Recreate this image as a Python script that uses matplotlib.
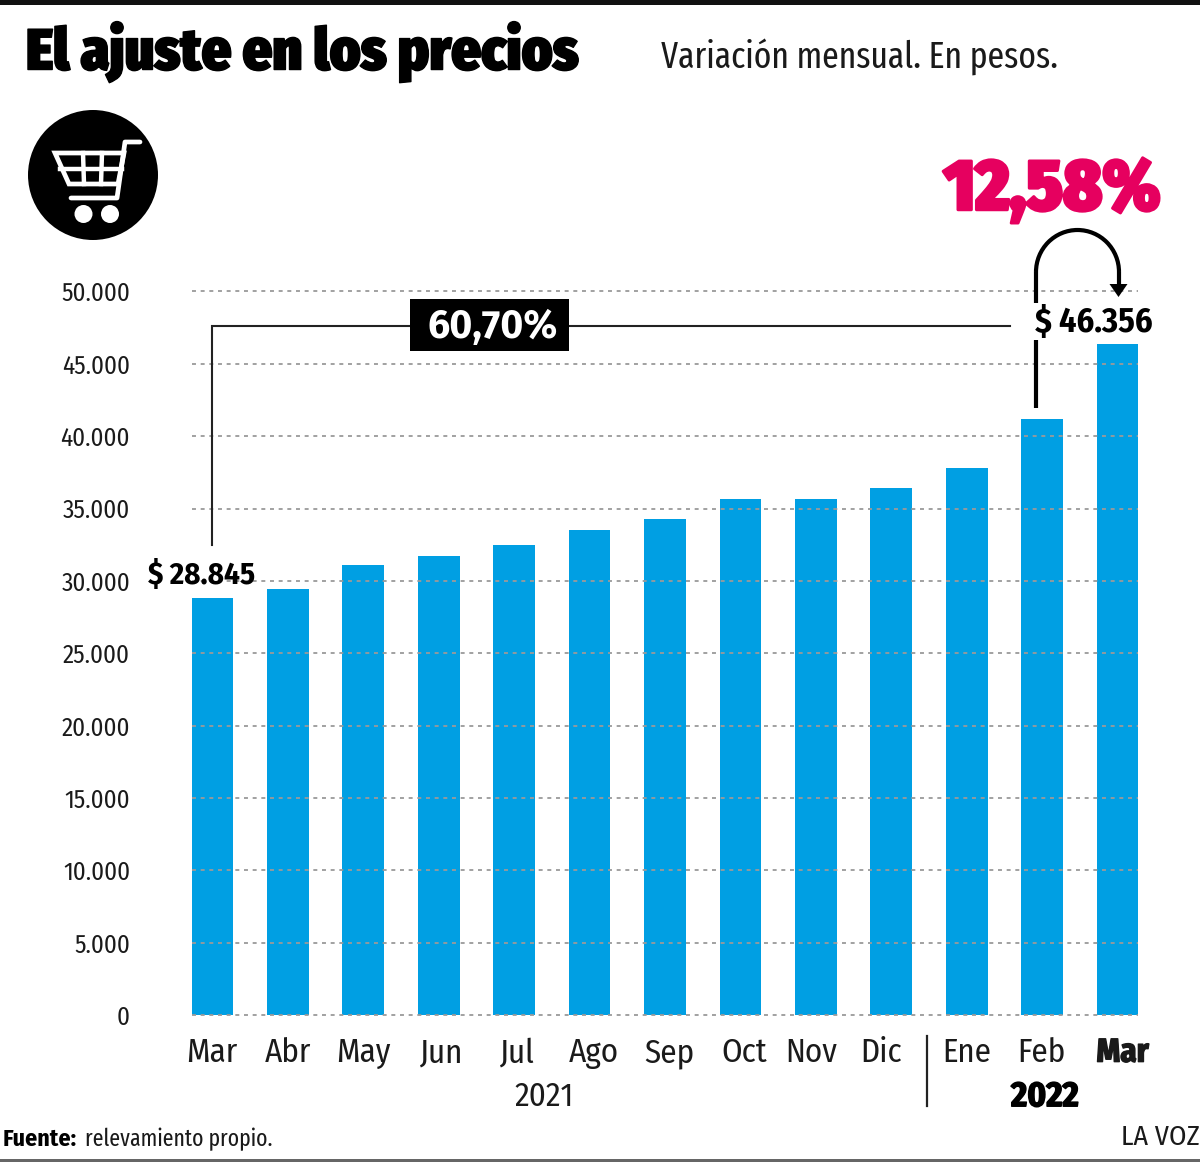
import matplotlib
matplotlib.use("Agg")
import matplotlib.pyplot as plt
import matplotlib.patheffects as pe
from matplotlib.patches import Circle, Polygon, Rectangle, Arc
from matplotlib.transforms import ScaledTranslation
from matplotlib import font_manager as fm

W, H = 1200, 1167
DPI = 100

months = ["Mar", "Abr", "May", "Jun", "Jul", "Ago", "Sep", "Oct", "Nov", "Dic", "Ene", "Feb", "Mar"]
prices = [28845, 29450, 31100, 31700, 32480, 33500, 34280, 35650, 35650, 36400, 37770, 41200, 46356]
label_shift = [-1, 0, 0, 3, 3, 4, 4, 4, -5, -10, 0, -1, 5]
y_ticks = [0, 5000, 10000, 15000, 20000, 25000, 30000, 35000, 40000, 45000, 50000]

installed = {f.name for f in fm.fontManager.ttflist}

def pick(*names):
    return next((n for n in names if n in installed), "Roboto")

NARROW = pick("Fira Sans Condensed", "Roboto")
TIGHT = pick("Fira Sans Extra Condensed", "Fira Sans Condensed", "Roboto")
HEAVY = pick("Fira Sans", "Open Sans")
BLUE = "#009fe3"
PINK = "#e6005f"
INK = "#1a1a1a"

def px(size):
    return size * 72 / DPI

fig = plt.figure(figsize=(W / DPI, H / DPI), dpi=DPI, facecolor="white")

# Bar chart area: the value scale runs a little past the top grid line so it is not clipped
ymax = 50300
top_px = 1016 - (1016 - 291.5) * ymax / 50000
ax = fig.add_axes([192 / W, 1 - 1016 / H, (1138 - 192) / W, (1016 - top_px) / H])
positions = list(range(len(months)))
ax.bar(positions, prices, width=0.555, color=BLUE, zorder=2)
ax.set_xlim(-0.27, 12.27)
ax.set_ylim(-60, ymax)
ax.yaxis.grid(True, color="#9a9a9a", linewidth=1.3, linestyle=(0, (2.2, 2.6)), zorder=3)
ax.set_axisbelow(False)
for side in ax.spines.values():
    side.set_visible(False)

ax.set_yticks(y_ticks)
ax.set_yticklabels([f"{v:,}".replace(",", ".") for v in y_ticks],
                   fontfamily=NARROW, fontsize=px(25), color=INK)
ax.tick_params(axis="y", length=0, pad=px(62))
ax.set_xticks(positions)
ax.set_xticklabels(months, fontfamily=NARROW, fontsize=px(33), color=INK)
ax.tick_params(axis="x", length=0, pad=px(21))
for lab, shift in zip(ax.get_xticklabels(), label_shift):
    lab.set_transform(lab.get_transform() + ScaledTranslation(shift / DPI, 0, fig.dpi_scale_trans))
last = ax.get_xticklabels()[-1]
last.set_fontweight("bold")
last.set_path_effects([pe.withStroke(linewidth=1.0, foreground=INK)])

# Overlay in pixel coordinates for headings, notes and the icon
ov = fig.add_axes([0, 0, 1, 1], facecolor="none")
ov.set_xlim(0, W)
ov.set_ylim(H, 0)
ov.axis("off")

ov.add_patch(Rectangle((0, 0), W, 4.5, color="#111111", lw=0))
ov.add_patch(Rectangle((0, 1159), W, 3, color="#666666", lw=0))

ov.text(26, 52, "El ajuste en los precios", fontfamily=pick("Fira Sans Condensed", "Open Sans"),
        fontweight=900, fontsize=px(58),
        color="black", va="center", ha="left",
        path_effects=[pe.withStroke(linewidth=1.0, foreground="black")])
ov.text(661, 57, "Variación mensual. En pesos.", fontfamily=TIGHT, fontsize=px(36.4),
        color=INK, va="center", ha="left")

# Shopping cart badge
ov.add_patch(Circle((93, 175), 65, color="black", lw=0))
basket = [(55, 153), (124, 153), (118, 184), (69, 184)]
ov.add_patch(Polygon(basket, closed=True, fc="none", ec="white", lw=3.4, joinstyle="miter"))
ov.plot([60, 122], [169, 169], color="white", lw=3.2)
ov.plot([83, 84], [153, 184], color="white", lw=3.2)
ov.plot([102, 101], [153, 184], color="white", lw=3.2)
ov.plot([71, 117, 125, 140], [198, 198, 142, 142], color="white", lw=3.4,
        solid_capstyle="round", solid_joinstyle="round")
ov.add_patch(Circle((83.5, 214), 9, color="white", lw=0))
ov.add_patch(Circle((110, 214), 9, color="white", lw=0))

# Long-range change bracket
ov.plot([212, 212, 1010], [545, 326, 326], color="#222222", lw=1.5, solid_joinstyle="miter")
ov.add_patch(Rectangle((410, 299), 159, 52, color="black", lw=0, zorder=4))
ov.text(492.5, 327, "60,70%", fontfamily=HEAVY, fontweight="bold", fontsize=px(39.5), color="white",
        ha="center", va="center", zorder=5)

# Month-on-month change arrow
ov.plot([1036, 1036], [408, 340], color="black", lw=3, solid_capstyle="butt")
ov.plot([1036, 1036], [303, 272], color="black", lw=3, solid_capstyle="butt")
ov.add_patch(Arc((1077.5, 272), 83, 84, theta1=180, theta2=360, color="black", lw=3))
ov.plot([1119, 1119], [272, 288], color="black", lw=3, solid_capstyle="butt")
ov.add_patch(Polygon([(1109.5, 284), (1127.5, 284), (1118.5, 297)], closed=True, color="black", lw=0))

ov.text(1052, 190, "12,58%", fontfamily=NARROW, fontweight=900, fontsize=px(72), color=PINK,
        ha="center", va="center", path_effects=[pe.withStroke(linewidth=2, foreground=PINK)])

# Endpoint value labels, taken from the first and last bars
def peso(v):
    return "$ " + f"{v:,}".replace(",", ".")

ov.text(202, 575, peso(prices[0]), fontfamily=NARROW, fontweight="bold", fontsize=px(31),
        color="black", ha="center", va="center")
ov.text(1094, 323, peso(prices[-1]), fontfamily=NARROW, fontweight="bold", fontsize=px(34),
        color="black", ha="center", va="center")

# Year row and separator
ov.plot([926.5, 926.5], [1036, 1106], color="#222222", lw=1.6)
ov.text(544, 1097, "2021", fontfamily=NARROW, fontsize=px(33), color=INK, ha="center", va="center")
ov.text(1045, 1097, "2022", fontfamily=NARROW, fontweight="bold", fontsize=px(35), color="black",
        ha="center", va="center", path_effects=[pe.withStroke(linewidth=1.0, foreground="black")])

# Source line
ov.text(3, 1139, "Fuente:", fontfamily=NARROW, fontweight="bold", fontsize=px(24), color="black",
        ha="left", va="center")
ov.text(85, 1139, "relevamiento propio.", fontfamily=TIGHT, fontsize=px(23.6), color=INK,
        ha="left", va="center")
ov.text(1200, 1137, "LA VOZ", fontfamily=NARROW, fontsize=px(28), color=INK, ha="right", va="center")

fig.savefig("out.png", dpi=DPI, facecolor="white")
